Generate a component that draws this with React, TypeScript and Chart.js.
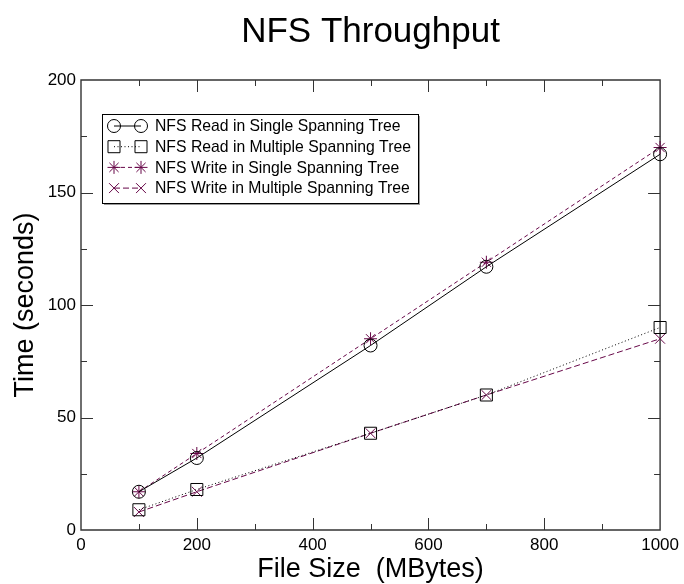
import React, { useEffect, useRef } from "react";
import { Chart, registerables } from "chart.js";
import { drawPoint } from "chart.js/helpers";

Chart.register(...registerables);

const fileSizes = [100, 200, 500, 700, 1000];
const readSingle = [17, 32, 82, 117, 167];
const readMultiple = [9, 18, 43, 60, 90];
const writeSingle = [17, 34, 85, 119, 170];
const writeMultiple = [8, 17, 43, 60, 85];

const seriesLabels = [
  "NFS Read in Single Spanning Tree",
  "NFS Read in Multiple Spanning Tree",
  "NFS Write in Single Spanning Tree",
  "NFS Write in Multiple Spanning Tree",
];

const titleText = "NFS Throughput";
const xTitle = "File Size  (MBytes)";
const yTitle = "Time (seconds)";

const FONT = "'Liberation Sans', Arial, Helvetica, sans-serif";
const PURPLE = "rgb(103,7,72)";
const BLACK = "#000000";

const toPoints = (ys: number[]) => fileSizes.map((x, i) => ({ x, y: ys[i] }));

const framePlugin = {
  id: "frameTicks",
  beforeDatasetsDraw(chart: any) {
    const { ctx, chartArea } = chart;
    const { left, right, top, bottom } = chartArea;
    const xs = chart.scales.x;
    const ys = chart.scales.y;
    ctx.save();
    ctx.strokeStyle = "#333333";
    ctx.lineWidth = 1.4;
    ctx.beginPath();
    ctx.rect(left, top, right - left, bottom - top);
    ctx.stroke();
    ctx.lineWidth = 1;
    ctx.beginPath();
    xs.ticks.forEach((t: any) => {
      const v = t.value;
      if (v <= xs.min || v >= xs.max) return;
      const len = v % 200 === 0 ? 12 : 6;
      const px = Math.round(xs.getPixelForValue(v)) + 0.5;
      ctx.moveTo(px, bottom);
      ctx.lineTo(px, bottom - len);
      ctx.moveTo(px, top);
      ctx.lineTo(px, top + len);
    });
    ys.ticks.forEach((t: any) => {
      const v = t.value;
      if (v <= ys.min || v >= ys.max) return;
      const len = v % 50 === 0 ? 12 : 6;
      const py = Math.round(ys.getPixelForValue(v)) + 0.5;
      ctx.moveTo(left, py);
      ctx.lineTo(left + len, py);
      ctx.moveTo(right, py);
      ctx.lineTo(right - len, py);
    });
    ctx.stroke();
    ctx.restore();
  },
};

const textPlugin = {
  id: "titlesLegend",
  afterDatasetsDraw(chart: any) {
    const { ctx, chartArea } = chart;
    const { left, right, top, bottom } = chartArea;
    const cx = (left + right) / 2;
    ctx.save();
    ctx.fillStyle = "#000";
    // title
    ctx.font = `35px ${FONT}`;
    ctx.textAlign = "center";
    ctx.textBaseline = "alphabetic";
    ctx.fillText(titleText, cx, 42);
    // x title
    ctx.font = `27px ${FONT}`;
    ctx.fillText(xTitle, cx, 577);
    // y title
    ctx.save();
    ctx.translate(33, (top + bottom) / 2);
    ctx.rotate(-Math.PI / 2);
    ctx.fillText(yTitle, 0, 0);
    ctx.restore();

    // legend
    const bx = 102, by = 114, bw = 316, bh = 89;
    ctx.fillStyle = "#999";
    ctx.fillRect(bx + 2, by + 2, bw, bh);
    ctx.fillStyle = "#fff";
    ctx.fillRect(bx, by, bw, bh);
    ctx.strokeStyle = "#000";
    ctx.lineWidth = 1;
    ctx.strokeRect(bx + 0.5, by + 0.5, bw, bh);

    chart.data.datasets.forEach((ds: any, i: number) => {
      const y = by + 12 + i * 20.7;
      const x1 = 114, x2 = 141;
      ctx.save();
      ctx.strokeStyle = ds.borderColor;
      ctx.lineWidth = ds.borderWidth;
      ctx.setLineDash(ds.borderDash || []);
      ctx.beginPath();
      ctx.moveTo(x1, y);
      ctx.lineTo(x2, y);
      ctx.stroke();
      ctx.setLineDash([]);
      ctx.strokeStyle = ds.pointBorderColor;
      ctx.fillStyle = "rgba(0,0,0,0)";
      ctx.lineWidth = 1;
      const opts = { pointStyle: ds.pointStyle, radius: ds.pointRadius, borderWidth: 1, rotation: 0 };
      drawPoint(ctx, opts, x1, y);
      drawPoint(ctx, opts, x2, y);
      ctx.restore();
      ctx.fillStyle = "#000";
      ctx.font = `15.75px ${FONT}`;
      ctx.textAlign = "left";
      ctx.textBaseline = "middle";
      ctx.fillText(ds.label, 155, y + 1);
    });
    ctx.restore();
  },
};

export default function App() {
  const ref = useRef<HTMLCanvasElement | null>(null);
  useEffect(() => {
    if (!ref.current) return;
    const common = {
      borderWidth: 1,
      pointBorderWidth: 1,
      pointBackgroundColor: "rgba(0,0,0,0)",
      clip: false as any,
      tension: 0,
      fill: false,
    };
    const chart = new Chart(ref.current, {
      type: "line",
      data: {
        datasets: [
          {
            ...common,
            label: seriesLabels[0],
            data: toPoints(readSingle),
            borderColor: BLACK,
            pointBorderColor: BLACK,
            pointStyle: "circle",
            pointRadius: 6.5,
          },
          {
            ...common,
            label: seriesLabels[1],
            data: toPoints(readMultiple),
            borderColor: BLACK,
            borderDash: [1, 2.5],
            pointBorderColor: BLACK,
            pointStyle: "rect",
            pointRadius: 8.5,
          },
          {
            ...common,
            label: seriesLabels[2],
            data: toPoints(writeSingle),
            borderColor: PURPLE,
            borderDash: [4, 3],
            pointBorderColor: PURPLE,
            pointStyle: "star",
            pointRadius: 6.5,
          },
          {
            ...common,
            label: seriesLabels[3],
            data: toPoints(writeMultiple),
            borderColor: PURPLE,
            borderDash: [6, 3],
            pointBorderColor: PURPLE,
            pointStyle: "crossRot",
            pointRadius: 7,
          },
        ] as any,
      },
      options: {
        animation: false,
        responsive: false,
        events: [],
        layout: { padding: { top: 80, right: 21, left: 0, bottom: 0 } },
        plugins: {
          legend: { display: false },
          title: { display: false },
          tooltip: { enabled: false },
        },
        scales: {
          x: {
            type: "linear",
            min: 0,
            max: 1000,
            grid: { display: false, drawTicks: false },
            border: { display: false },
            ticks: {
              stepSize: 100,
              autoSkip: false,
              maxRotation: 0,
              padding: 5,
              color: "#000",
              font: { family: FONT, size: 17 },
              callback: (v: any) => (Number(v) % 200 === 0 ? String(v) : ""),
            },
            afterFit: (s: any) => {
              s.height = 54;
            },
          },
          y: {
            type: "linear",
            min: 0,
            max: 200,
            grid: { display: false, drawTicks: false },
            border: { display: false },
            ticks: {
              stepSize: 25,
              autoSkip: false,
              padding: 5,
              color: "#000",
              font: { family: FONT, size: 17 },
              callback: (v: any) => (Number(v) % 50 === 0 ? String(v) : ""),
            },
            afterFit: (s: any) => {
              s.width = 81;
            },
          },
        },
      },
      plugins: [framePlugin, textPlugin],
    });
    return () => chart.destroy();
  }, []);
  return (
    <canvas
      ref={ref}
      width={684}
      height={584}
      style={{ position: "absolute", left: 0, top: 0, width: 684, height: 584 }}
    />
  );
}
